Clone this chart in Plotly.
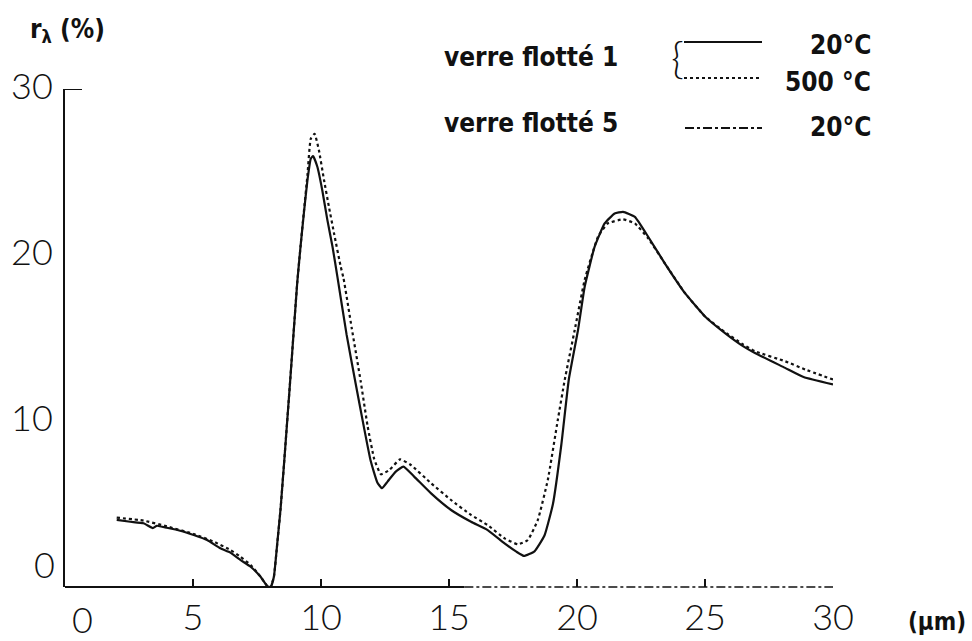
import plotly.graph_objects as go

# --- data ---
x_20 = [2.02, 2.55, 3.07, 3.43, 3.59, 3.98, 4.50, 5.03, 5.55, 6.07, 6.46, 6.85, 7.25, 7.64, 7.90, 8.03,
        8.16, 8.29, 8.42, 8.55, 8.79, 9.07, 9.20, 9.33, 9.47, 9.60, 9.69, 9.86, 10.05, 10.25, 10.45,
        10.64, 11.00, 11.36, 11.68, 11.94, 12.20, 12.38, 12.60, 12.92, 13.22, 13.64, 14.30, 15.08,
        15.86, 16.51, 17.17, 17.63, 17.93, 18.34, 18.73, 19.06, 19.39, 19.68, 20.04, 20.30, 20.69,
        21.08, 21.47, 21.80, 22.26, 22.78, 23.43, 24.22, 25.00, 25.78, 26.50, 26.95, 28.13, 28.85, 30.0]
r_20 = [4.04, 3.93, 3.84, 3.55, 3.69, 3.57, 3.39, 3.13, 2.83, 2.33, 2.07, 1.63, 1.22, 0.62, 0.06, -0.02,
        0.62, 2.6, 4.7, 7.3, 12.3, 18.3, 20.5, 22.5, 24.5, 25.8, 25.96, 25.3, 23.9, 22.1, 20.5,
        18.7, 15.2, 12.2, 9.6, 7.6, 6.3, 5.95, 6.35, 6.95, 7.25, 6.65, 5.64, 4.64,
        3.93, 3.43, 2.63, 2.13, 1.87, 2.15, 3.1, 5.0, 8.6, 12.5, 15.48, 18.09, 20.5,
        21.9, 22.5, 22.6, 22.3, 21.1, 19.5, 17.7, 16.3, 15.3, 14.5, 14.1, 13.2, 12.65, 12.2]

x_500 = [2.02, 3.07, 3.98, 5.03, 5.81, 6.46, 6.85, 7.25, 7.64, 7.90, 8.03,
         8.16, 8.29, 8.42, 8.55, 8.79, 9.07, 9.20, 9.33, 9.47, 9.60, 9.75, 9.92, 10.12, 10.31, 10.51,
         10.77, 10.88, 11.20, 11.55, 11.82, 12.08, 12.34, 12.67, 13.09, 13.51, 14.30, 15.08, 15.86,
         16.51, 17.17, 17.69, 18.08, 18.47, 18.86, 19.25, 19.52, 19.91, 20.30, 20.82, 21.20, 21.80,
         22.26, 22.78, 23.43, 24.22, 25.00, 25.78, 26.50, 26.95, 28.13, 28.92, 30.0]
r_500 = [4.18, 4.00, 3.65, 3.19, 2.73, 2.23, 1.83, 1.33, 0.62, 0.06, -0.02,
         0.62, 2.6, 4.7, 7.3, 12.3, 18.3, 20.5, 22.6, 24.8, 27.0, 27.3, 26.3, 24.5, 22.9, 21.3,
         19.3, 18.6, 15.6, 12.4, 9.7, 7.7, 6.79, 7.05, 7.69, 7.35, 6.25, 5.24, 4.34,
         3.73, 2.93, 2.57, 2.83, 4.04, 6.45, 10.06, 12.47, 15.48, 18.5, 21.1, 21.9, 22.15,
         21.9, 21.0, 19.5, 17.7, 16.3, 15.35, 14.6, 14.2, 13.6, 13.1, 12.5]

x_ticks = [5, 10, 15, 20, 25, 30]
x_ticktext = ["5", "10", "15", "20", "25", "30"]
y_ticks = [10, 20, 30]
y_ticktext = ["10", "20", "30"]

# --- layout geometry (pixels) ---
W, H = 972, 641
L, R, T, B = 65, 833, 89, 587


def px(xp):
    return (xp - L) / (R - L)


def py(yp):
    return (B - yp) / (B - T)


INK = "#111111"
TICKFONT = dict(family="Lato, DejaVu Sans, sans-serif", size=36, color=INK, weight=300)
BOLD = dict(family="Liberation Sans Narrow, DejaVu Sans Condensed, Arial Narrow, sans-serif",
            size=26, color=INK, weight="bold")

fig = go.Figure()
fig.add_trace(go.Scatter(x=x_20, y=r_20, mode="lines", name="verre flotté 1 20°C",
                         line=dict(color=INK, width=2.2, shape="spline", smoothing=0.4)))
fig.add_trace(go.Scatter(x=x_500, y=r_500, mode="lines", name="verre flotté 1 500°C",
                         line=dict(color=INK, width=2.2, dash="dot", shape="spline", smoothing=0.4)))

shapes = [
    # x axis: solid then dash-dot
    dict(type="line", xref="x", yref="paper", x0=0, x1=15.6, y0=0, y1=0,
         line=dict(color=INK, width=2)),
    dict(type="line", xref="x", yref="paper", x0=15.6, x1=30, y0=0, y1=0,
         line=dict(color=INK, width=1.6, dash="dashdot")),
    # top tick of y axis
    dict(type="line", xref="paper", yref="y", x0=0, x1=px(82), y0=30, y1=30,
         line=dict(color=INK, width=2)),
    # legend samples
    dict(type="line", xref="paper", yref="paper", x0=px(684), x1=px(762), y0=py(42), y1=py(42),
         line=dict(color=INK, width=2.2)),
    dict(type="line", xref="paper", yref="paper", x0=px(684), x1=px(762), y0=py(78), y1=py(78),
         line=dict(color=INK, width=2.2, dash="dot")),
    dict(type="line", xref="paper", yref="paper", x0=px(685), x1=px(762), y0=py(128), y1=py(128),
         line=dict(color=INK, width=2, dash="dashdot")),
]

annotations = [
    dict(text="0", xref="paper", yref="paper", x=px(82), y=py(619), showarrow=False,
         font=TICKFONT, xanchor="center", yanchor="middle"),
    dict(text="0", xref="paper", yref="paper", x=px(57), y=py(564), showarrow=False,
         font=TICKFONT, xanchor="right", yanchor="middle"),
    dict(text="r<sub>λ</sub> (%)", xref="paper", yref="paper", x=px(28), y=py(30), showarrow=False,
         font=dict(BOLD, size=26), xanchor="left", yanchor="middle"),
    dict(text="(µm)", xref="paper", yref="paper", x=px(968), y=py(622), showarrow=False,
         font=dict(BOLD, size=24), xanchor="right", yanchor="middle"),
    dict(text="verre flotté 1", xref="paper", yref="paper", x=px(442), y=py(57), showarrow=False,
         font=BOLD, xanchor="left", yanchor="middle"),
    dict(text="verre flotté 5", xref="paper", yref="paper", x=px(442), y=py(123), showarrow=False,
         font=BOLD, xanchor="left", yanchor="middle"),
    dict(text="20°C", xref="paper", yref="paper", x=px(873), y=py(45), showarrow=False,
         font=BOLD, xanchor="right", yanchor="middle"),
    dict(text="500 °C", xref="paper", yref="paper", x=px(873), y=py(82), showarrow=False,
         font=BOLD, xanchor="right", yanchor="middle"),
    dict(text="20°C", xref="paper", yref="paper", x=px(873), y=py(127), showarrow=False,
         font=BOLD, xanchor="right", yanchor="middle"),
    dict(text="{", xref="paper", yref="paper", x=px(677), y=py(57), showarrow=False,
         font=dict(family="Lato, DejaVu Sans, sans-serif", size=44, color=INK, weight=300),
         xanchor="center", yanchor="middle"),
]

fig.update_layout(
    width=W, height=H,
    margin=dict(l=L, r=W - R, t=T, b=H - B, pad=0, autoexpand=False),
    paper_bgcolor="white", plot_bgcolor="white",
    showlegend=False,
    shapes=shapes,
    annotations=annotations,
    xaxis=dict(range=[0, 30], tickvals=x_ticks, ticktext=x_ticktext, ticks="inside", ticklen=8,
               tickwidth=1.5, tickcolor=INK, showline=False, showgrid=False, zeroline=False,
               tickfont=TICKFONT, ticklabelstandoff=6, automargin=False),
    yaxis=dict(range=[0, 30], tickvals=y_ticks, ticktext=y_ticktext, ticks="", showline=True,
               linecolor=INK, linewidth=2, showgrid=False, zeroline=False, tickfont=TICKFONT,
               ticklabelstandoff=3, ticklabelshift=-3, automargin=False),
)

fig.write_html("out.html")
